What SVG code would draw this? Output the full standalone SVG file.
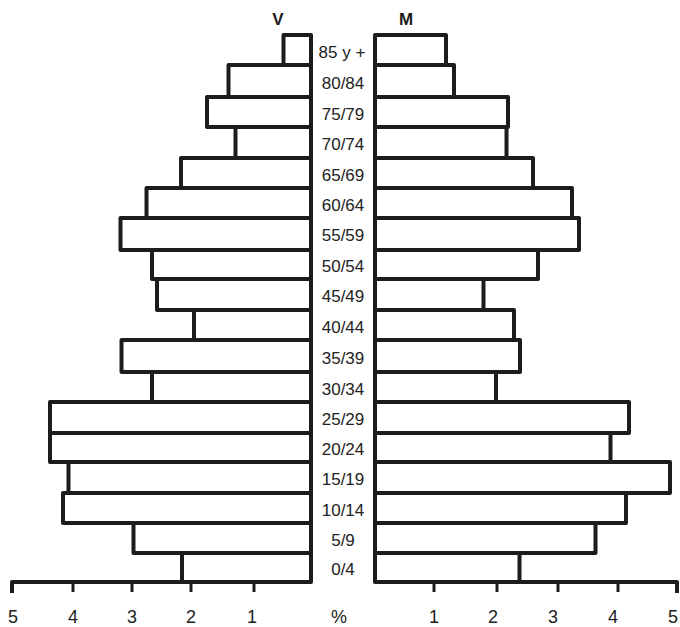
<svg xmlns="http://www.w3.org/2000/svg" width="680" height="627" viewBox="0 0 680 627">
<style>
.bar{fill:#fff;stroke:#1c1c1c;stroke-width:4;stroke-linejoin:round}
.ax{fill:none;stroke:#1c1c1c;stroke-width:4;stroke-linejoin:round;stroke-linecap:butt}
.tk{stroke:#1c1c1c;stroke-width:3}
.age{font-family:"Liberation Sans",Arial,sans-serif;font-size:17px;fill:#222;text-anchor:middle}
.num{font-family:"Liberation Sans",Arial,sans-serif;font-size:18px;fill:#222;text-anchor:middle}
.hd{font-family:"Liberation Sans",Arial,sans-serif;font-size:17px;font-weight:bold;fill:#1c1c1c;text-anchor:middle}
</style>
<rect width="680" height="627" fill="#fff"/>
<g id="headers">
<text class="hd" x="278" y="25">V</text>
<text class="hd" x="406" y="25">M</text>
</g>
<g id="bars-V">
<rect class="bar" x="283.5" y="35" width="27.5" height="30"/>
<rect class="bar" x="228.5" y="65" width="82.5" height="32"/>
<rect class="bar" x="207" y="97" width="104" height="30"/>
<rect class="bar" x="235.5" y="127" width="75.5" height="31"/>
<rect class="bar" x="181" y="158" width="130" height="30"/>
<rect class="bar" x="146.5" y="188" width="164.5" height="30"/>
<rect class="bar" x="120.5" y="218" width="190.5" height="32"/>
<rect class="bar" x="152" y="250" width="159" height="29"/>
<rect class="bar" x="157" y="279" width="154" height="31"/>
<rect class="bar" x="194" y="310" width="117" height="30"/>
<rect class="bar" x="121.5" y="340" width="189.5" height="32"/>
<rect class="bar" x="152" y="372" width="159" height="30"/>
<rect class="bar" x="50" y="402" width="261" height="31"/>
<rect class="bar" x="50" y="433" width="261" height="29"/>
<rect class="bar" x="68.5" y="462" width="242.5" height="31"/>
<rect class="bar" x="63" y="493" width="248" height="30"/>
<rect class="bar" x="133.5" y="523" width="177.5" height="30"/>
<rect class="bar" x="182" y="553" width="129" height="29"/>
</g>
<g id="bars-M">
<rect class="bar" x="375" y="35" width="71" height="30"/>
<rect class="bar" x="375" y="65" width="79" height="32"/>
<rect class="bar" x="375" y="97" width="133" height="30"/>
<rect class="bar" x="375" y="127" width="131.5" height="31"/>
<rect class="bar" x="375" y="158" width="158" height="30"/>
<rect class="bar" x="375" y="188" width="197" height="30"/>
<rect class="bar" x="375" y="218" width="204" height="32"/>
<rect class="bar" x="375" y="250" width="163" height="29"/>
<rect class="bar" x="375" y="279" width="108.5" height="31"/>
<rect class="bar" x="375" y="310" width="139" height="30"/>
<rect class="bar" x="375" y="340" width="145" height="32"/>
<rect class="bar" x="375" y="372" width="121" height="30"/>
<rect class="bar" x="375" y="402" width="254" height="31"/>
<rect class="bar" x="375" y="433" width="235.5" height="29"/>
<rect class="bar" x="375" y="462" width="295" height="31"/>
<rect class="bar" x="375" y="493" width="251" height="30"/>
<rect class="bar" x="375" y="523" width="220.5" height="30"/>
<rect class="bar" x="375" y="553" width="144.5" height="29"/>
</g>
<g id="ages">
<text class="age" x="342" y="57.5">85 y +</text>
<text class="age" x="343" y="88.5">80/84</text>
<text class="age" x="343" y="119.5">75/79</text>
<text class="age" x="343" y="150">70/74</text>
<text class="age" x="343" y="180.5">65/69</text>
<text class="age" x="343" y="210.5">60/64</text>
<text class="age" x="343" y="241">55/59</text>
<text class="age" x="343" y="272">50/54</text>
<text class="age" x="343" y="302">45/49</text>
<text class="age" x="343" y="332.5">40/44</text>
<text class="age" x="343" y="363.5">35/39</text>
<text class="age" x="343" y="394.5">30/34</text>
<text class="age" x="343" y="425">25/29</text>
<text class="age" x="343" y="455">20/24</text>
<text class="age" x="343" y="485">15/19</text>
<text class="age" x="343" y="515.5">10/14</text>
<text class="age" x="343" y="545.5">5/9</text>
<text class="age" x="343" y="575">0/4</text>
</g>
<g id="axis">
<path class="ax" d="M12,593 L12,582 L311,582"/>
<path class="ax" d="M375,582 L677,582 L677,593"/>
<line class="tk" x1="73" y1="582" x2="73" y2="592"/>
<line class="tk" x1="132" y1="582" x2="132" y2="592"/>
<line class="tk" x1="191" y1="582" x2="191" y2="592"/>
<line class="tk" x1="254" y1="582" x2="254" y2="592"/>
<line class="tk" x1="434" y1="582" x2="434" y2="592"/>
<line class="tk" x1="497" y1="582" x2="497" y2="592"/>
<line class="tk" x1="558" y1="582" x2="558" y2="592"/>
<line class="tk" x1="618" y1="582" x2="618" y2="592"/>
<text class="num" x="13" y="623">5</text>
<text class="num" x="73" y="623">4</text>
<text class="num" x="132" y="623">3</text>
<text class="num" x="191" y="623">2</text>
<text class="num" x="252" y="623">1</text>
<text class="num" x="339" y="623">%</text>
<text class="num" x="434" y="623">1</text>
<text class="num" x="493" y="623">2</text>
<text class="num" x="553" y="623">3</text>
<text class="num" x="613" y="623">4</text>
<text class="num" x="673" y="623">5</text>
</g>
</svg>
